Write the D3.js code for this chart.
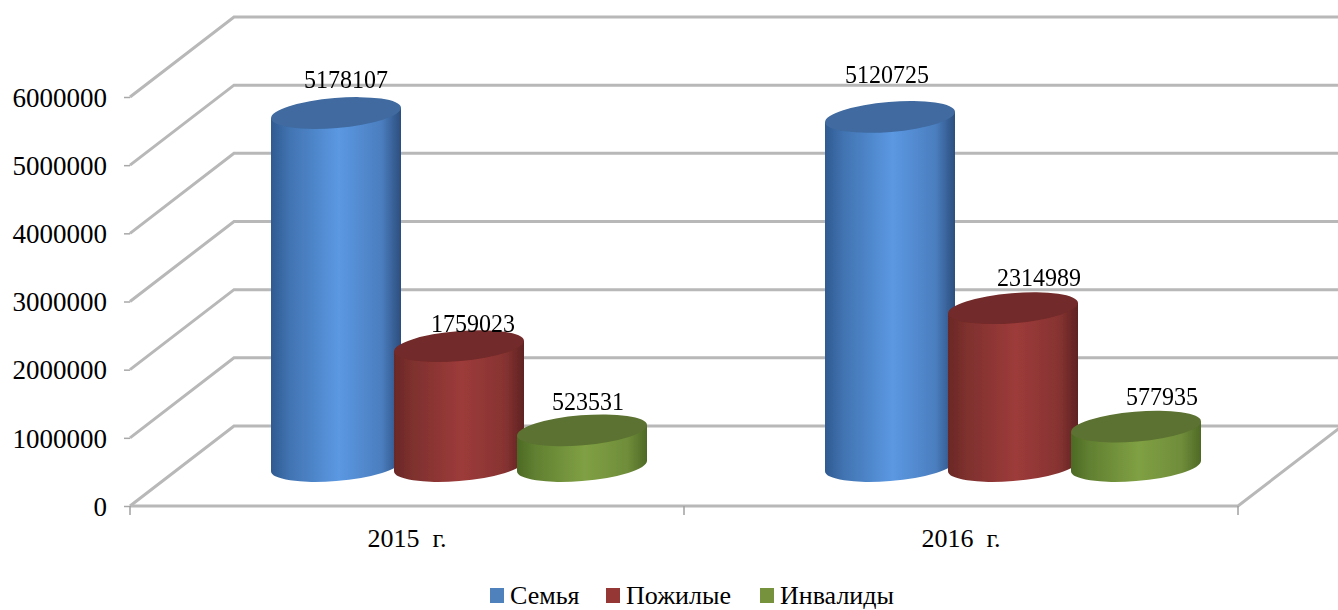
<!DOCTYPE html>
<html>
<head>
  <meta charset="utf-8">
  <script src="https://d3js.org/d3.v7.min.js"></script>
  <title>Chart</title>
  <style>
    body { margin: 0; background: #fff; }
    svg { display: block; }
    text { font-family: "Liberation Serif", serif; fill: #000; }
    .domain { display: none; }
  </style>
</head>
<body>
<div id="chart"></div>
<script>
// data
var categories = ["2015  г.", "2016  г."];
var seriesNames = ["Семья", "Пожилые", "Инвалиды"];
var family = [5178107, 5120725];
var elderly = [1759023, 2314989];
var disabled = [523531, 577935];
var yTicks = [0, 1000000, 2000000, 3000000, 4000000, 5000000, 6000000];

// colours per series: edge, middle, right edge, cap, legend
var colors = [
  {id: "blue", left: "#2f5a90", mid: "#5b98e2", right: "#2c4f7e", cap: "#3f6ba0", legend: "#4f81bd"},
  {id: "red", left: "#6a2826", mid: "#9d3b3a", right: "#5f2322", cap: "#722a29", legend: "#953735"},
  {id: "green", left: "#4c6a24", mid: "#80a044", right: "#4f6a26", cap: "#5c7230", legend: "#76923c"}
];

var width = 1338, height = 610;
var left = 130, right = 1238, bottom = 506, top6 = 97;
var depthX = 104, depthY = -80;   // 3d offset from front to back wall

// cylinder ellipse
var rx = 65.2, ry = 15, tilt = -4.8, halfW = 65, edgeDy = 5.2;

var svg = d3.select("#chart").append("svg")
  .attr("width", width)
  .attr("height", height);

var defs = svg.append("defs");
defs.append("filter").attr("id", "soft")
  .attr("x", "-5%").attr("y", "-5%").attr("width", "110%").attr("height", "110%")
  .append("feGaussianBlur").attr("stdDeviation", 0.7);

colors.forEach(function(c) {
  var g = defs.append("linearGradient").attr("id", "grad-" + c.id);
  g.append("stop").attr("offset", "0%").attr("stop-color", c.left);
  g.append("stop").attr("offset", "14%").attr("stop-color", d3.interpolateRgb(c.left, c.mid)(0.4));
  g.append("stop").attr("offset", "52%").attr("stop-color", c.mid);
  g.append("stop").attr("offset", "85%").attr("stop-color", d3.interpolateRgb(c.right, c.mid)(0.65));
  g.append("stop").attr("offset", "100%").attr("stop-color", c.right);
});

var x0 = d3.scaleBand().domain(categories).range([left, right]);
var x1 = d3.scaleBand().domain(seriesNames).range([-184.5, 184.5]);
var y = d3.scaleLinear().domain([0, 6000000]).range([bottom, top6]);

// walls and floor
var grid = svg.append("g").attr("filter", "url(#soft)")
  .attr("fill", "none").attr("stroke", "#b8b8b8").attr("stroke-width", 3);

grid.selectAll("path.wall")
  .data(yTicks)
  .enter().append("path")
    .attr("class", "wall")
    .attr("d", function(d) {
      return "M" + left + "," + y(d) + "L" + (left + depthX) + "," + (y(d) + depthY) + "H" + width;
    });

grid.append("path")
  .attr("d", "M" + left + "," + bottom + "H" + right + "l" + depthX + "," + depthY);

// y axis
var yAxis = svg.append("g")
  .attr("transform", "translate(" + left + ",0)")
  .call(d3.axisLeft(y).tickValues(yTicks).tickSize(6).tickPadding(17).tickFormat(d3.format("d")));
yAxis.selectAll("line").attr("stroke", "#a8a8a8").attr("stroke-width", 1.5);
yAxis.selectAll("text").style("font-size", "27px").attr("dy", "0.34em");

svg.append("line")
  .attr("x1", left).attr("x2", left).attr("y1", y(6000000)).attr("y2", bottom)
  .attr("stroke", "#b8b8b8").attr("stroke-width", 2.6).attr("filter", "url(#soft)");

// x axis, ticks sit on the band edges
var xAxis = svg.append("g")
  .attr("transform", "translate(0," + bottom + ")")
  .call(d3.axisBottom(x0).tickSize(0).tickPadding(23));
xAxis.selectAll("text").style("font-size", "26px").style("white-space", "pre");

svg.selectAll("line.edge")
  .data([0, 1, 2])
  .enter().append("line")
    .attr("class", "edge")
    .attr("x1", function(d) { return left + d * x0.step(); })
    .attr("x2", function(d) { return left + d * x0.step(); })
    .attr("y1", bottom).attr("y2", bottom + 9)
    .attr("stroke", "#a0a0a0").attr("stroke-width", 1.5);

// bars
var rows = [];
seriesNames.forEach(function(name, s) {
  var values = [family, elderly, disabled][s];
  categories.forEach(function(cat, i) {
    rows.push({cat: cat, name: name, s: s, i: i, value: values[i]});
  });
});

function cx(d) {
  return x0(d.cat) + x0.bandwidth() / 2 + depthX / 2 + x1(d.name) + x1.bandwidth() / 2;
}

var baseY = y(0) + depthY / 2;
function topY(d) { return baseY - (y(0) - y(d.value)); }

var bars = svg.append("g").attr("filter", "url(#soft)")
  .selectAll("g")
  .data(rows)
  .enter().append("g");

bars.append("path")
  .attr("fill", function(d) { return "url(#grad-" + colors[d.s].id + ")"; })
  .attr("d", function(d) {
    var c = cx(d), t = topY(d);
    return "M" + (c - halfW) + "," + (t + edgeDy) +
      "V" + (baseY + edgeDy) +
      "A" + rx + "," + ry + " " + tilt + " 0 0 " + (c + halfW) + "," + (baseY - edgeDy) +
      "V" + (t - edgeDy) + "Z";
  });

bars.append("ellipse")
  .attr("rx", rx).attr("ry", ry)
  .attr("fill", function(d) { return colors[d.s].cap; })
  .attr("transform", function(d) {
    return "translate(" + cx(d) + "," + topY(d) + ") rotate(" + tilt + ")";
  });

// value labels, nudged by hand like the original
var labelNudge = [[10, -25], [-3, -34], [14, -14], [26, -22], [6, -20], [26, -22]];
svg.append("g").selectAll("text")
  .data(rows)
  .enter().append("text")
    .attr("text-anchor", "middle")
    .style("font-size", "26px")
    .attr("textLength", function(d) { return String(d.value).length * 12; })
    .attr("lengthAdjust", "spacingAndGlyphs")
    .attr("x", function(d) { return cx(d) + labelNudge[d.s * 2 + d.i][0]; })
    .attr("y", function(d) { return topY(d) + labelNudge[d.s * 2 + d.i][1]; })
    .text(function(d) { return d.value; });

// legend
var legendX = [490, 606, 760];
var legend = svg.append("g").selectAll("g")
  .data(seriesNames)
  .enter().append("g")
    .attr("transform", function(d, i) { return "translate(" + legendX[i] + ",588)"; });

legend.append("rect")
  .attr("width", 14).attr("height", 15)
  .attr("fill", function(d, i) { return colors[i].legend; });

legend.append("text")
  .attr("x", 20).attr("y", 16)
  .style("font-size", "26px")
  .text(function(d) { return d; });
</script>
</body>
</html>
